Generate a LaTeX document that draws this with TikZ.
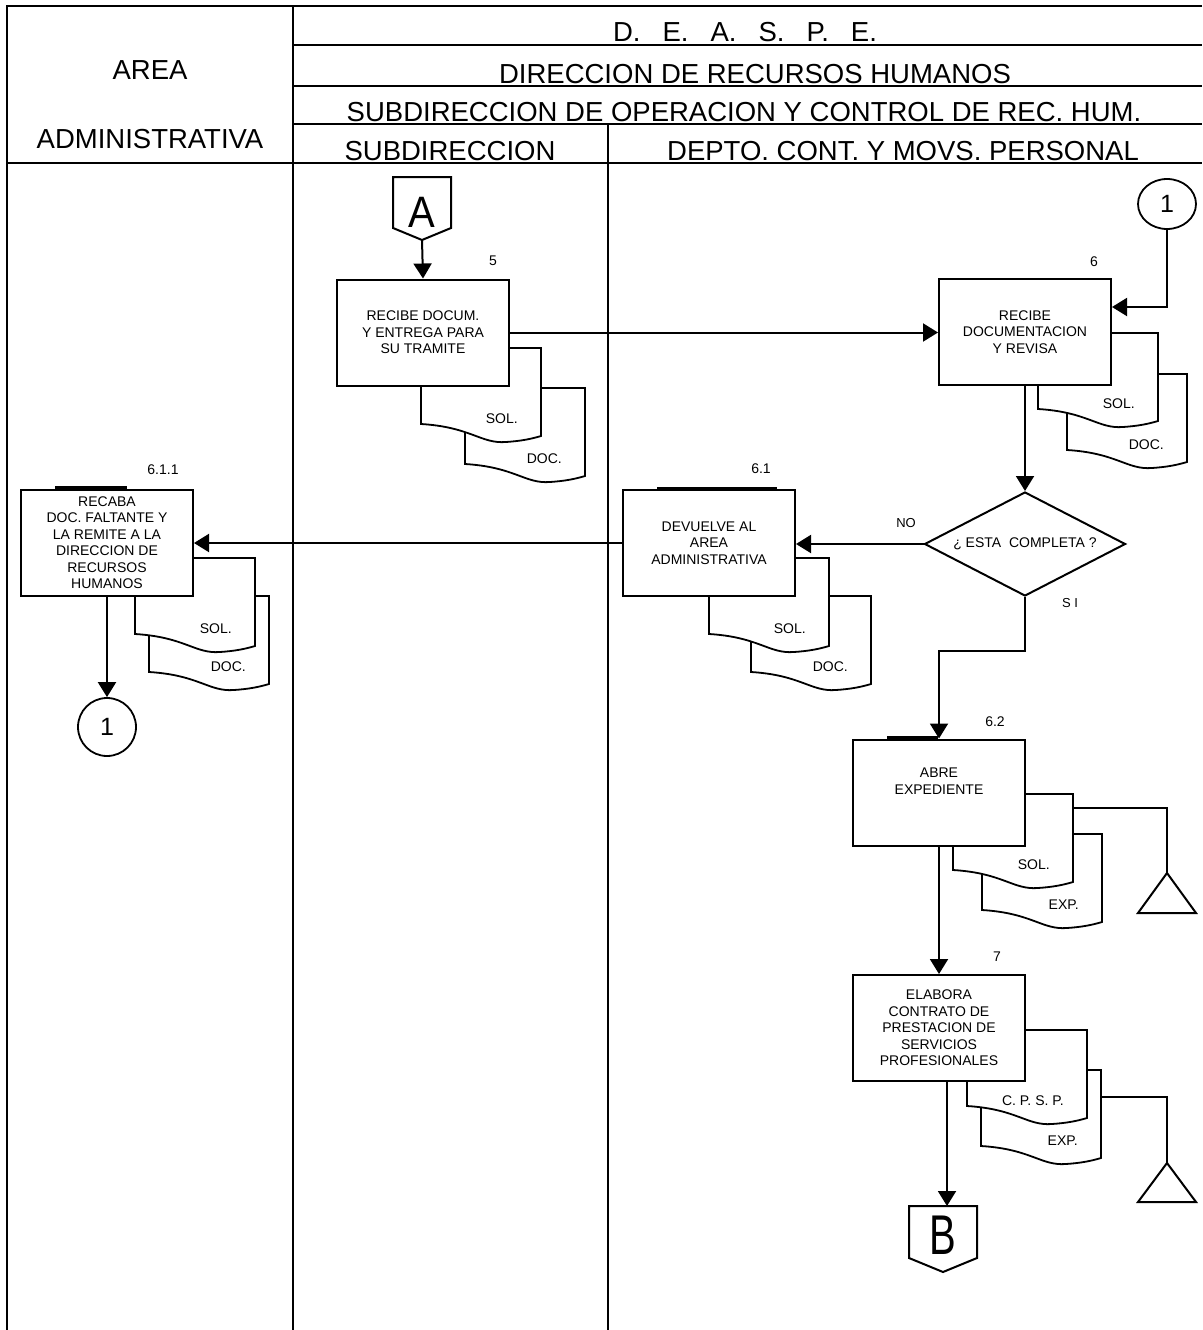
\documentclass[tikz,border=0pt]{standalone}
\usepackage{graphicx}
\usepackage{fontspec}
\setmainfont{Liberation Sans}
\usetikzlibrary{positioning, arrows.meta, shapes.geometric}

% document symbol: name, x, y (top left corner), label
\newcommand{\DocShape}[4]{%
  \draw[DocStyle] (#2,#3) -- (#2,#3+76)
    .. controls (#2+50,#3+79) and (#2+60,#3+96) .. (#2+85,#3+94)
    .. controls (#2+100,#3+93) and (#2+110,#3+91) .. (#2+120,#3+88)
    -- (#2+120,#3) -- cycle;
  \node[DocLabel](#1) at (#2+97,#3+71) {#4};
}

\begin{document}
\begin{tikzpicture}[x=1pt,y=-1pt]
  \tikzset{FrameStyle/.style = {
    draw          = black,
    line width    = 2pt
    }
  }
  \tikzset{HeadStyle/.style = {
    anchor        = base,
    inner sep     = 0pt,
    font          = \fontsize{27.5}{31}\selectfont
    }
  }
  \tikzset{BoxStyle/.style = {
    shape         = rectangle,
    draw          = black,
    fill          = white,
    line width    = 2pt,
    minimum width = 172pt,
    minimum height= 106pt,
    inner sep     = 0pt,
    align         = center,
    font          = \fontsize{14}{16.5}\selectfont
    }
  }
  \tikzset{DocStyle/.style = {
    draw          = black,
    fill          = white,
    line width    = 1.8pt
    }
  }
  \tikzset{DocLabel/.style = {
    anchor        = east,
    inner sep     = 0pt,
    font          = \fontsize{14}{16}\selectfont
    }
  }
  \tikzset{NumStyle/.style = {
    inner sep     = 0pt,
    font          = \fontsize{14}{16}\selectfont
    }
  }
  \tikzset{CircStyle/.style = {
    shape         = ellipse,
    draw          = black,
    fill          = white,
    line width    = 1.8pt,
    minimum width = 58pt,
    minimum height= 58pt,
    inner sep     = 0pt,
    font          = \fontsize{25}{28}\selectfont
    }
  }
  \tikzset{ConStyle/.style = {
    inner sep     = 0pt,
    font          = \fontsize{40}{44}\selectfont
    }
  }
  \tikzset{LineStyle/.style = {
    draw          = black,
    line width    = 2pt,
    line join     = miter
    }
  }
  \tikzset{FlowStyle/.style = {
    draw          = black,
    line width    = 2pt,
    -{Triangle[length=15pt,width=18pt]}
    }
  }
  \tikzset{TabStyle/.style = {
    draw          = black,
    line width    = 3pt
    }
  }

  \useasboundingbox (0,0) rectangle (1202,1330);

  % lanes and header
  \draw[FrameStyle] (1202,6) -- (7,6) -- (7,1330);
  \draw[FrameStyle] (293,6) -- (293,1330);
  \draw[FrameStyle] (608,124) -- (608,1330);
  \draw[FrameStyle] (7,163) -- (1202,163);
  \foreach \y in {45,86,124} \draw[FrameStyle] (293,\y) -- (1202,\y);

  \node[HeadStyle](HArea) at (150,80) {AREA};
  \node[HeadStyle](HAdmin) at (150,148) {ADMINISTRATIVA};
  \node[HeadStyle](HDeaspe) at (745,42) {D.\hspace{22pt}E.\hspace{22pt}A.\hspace{22pt}S.\hspace{22pt}P.\hspace{22pt}E.};
  \node[HeadStyle](HDrh) at (755,83) {DIRECCION DE RECURSOS HUMANOS};
  \node[HeadStyle](HSoc) at (744,121) {SUBDIRECCION DE OPERACION Y CONTROL DE REC. HUM.};
  \node[HeadStyle](HSub) at (450,160) {SUBDIRECCION};
  \node[HeadStyle](HDepto) at (903,160) {DEPTO. CONT. Y MOVS. PERSONAL};

  % documents behind the boxes
  \DocShape{Doc5b}{465}{388}{DOC.}
  \DocShape{Doc5a}{421}{348}{SOL.}
  \DocShape{Doc6b}{1067}{374}{DOC.}
  \DocShape{Doc6a}{1038}{333}{SOL.}
  \DocShape{Doc611b}{149}{596}{DOC.}
  \DocShape{Doc611a}{135}{558}{SOL.}
  \DocShape{Doc61b}{751}{596}{DOC.}
  \DocShape{Doc61a}{709}{558}{SOL.}
  \DocShape{Doc62b}{982}{834}{EXP.}
  \DocShape{Doc62a}{953}{794}{SOL.}
  \DocShape{Doc7b}{981}{1070}{EXP.}
  \DocShape{Doc7a}{967}{1030}{C. P. S. P.}

  % archive
  \coordinate (Out62) at (1073,808);
  \coordinate (Arch1) at (1167,873);
  \coordinate (Out7) at (1101,1097);
  \coordinate (Arch2) at (1167,1163);
  \draw[LineStyle](Out62) -| (Arch1);
  \draw[LineStyle](Arch1) -- ++(29,40) -- ++(-58,0) -- cycle;
  \draw[LineStyle](Out7) -| (Arch2);
  \draw[LineStyle](Arch2) -- ++(29,39) -- ++(-58,0) -- cycle;

  % process boxes
  \node[BoxStyle](Box5) at (423,332.5) {RECIBE DOCUM.\\Y ENTREGA PARA\\SU TRAMITE};
  \node[BoxStyle](Box6) at (1025,332) {RECIBE\\DOCUMENTACION\\Y REVISA};
  \node[BoxStyle](Box611) at (107,542.5) {RECABA\\DOC. FALTANTE Y\\LA REMITE A LA\\DIRECCION DE\\RECURSOS\\HUMANOS};
  \node[BoxStyle](Box61) at (709,543) {DEVUELVE AL\\AREA\\ADMINISTRATIVA};
  \node[BoxStyle](Box62) at (939,792.5) {ABRE\\EXPEDIENTE\\[6pt]};
  \node[BoxStyle](Box7) at (939,1028) {ELABORA\\CONTRATO DE\\PRESTACION DE\\SERVICIOS\\PROFESIONALES};
  \node[BoxStyle, shape=diamond, aspect=2, minimum width=201pt, minimum height=104pt](Dec6) at (1025,544) {¿ ESTA\ \ COMPLETA ?};

  \draw[TabStyle] (55,487.5) -- (127,487.5);
  \draw[TabStyle] (657,488.5) -- (777,488.5);
  \draw[TabStyle] (887,737.5) -- (938,737.5);

  \node[NumStyle](N5) at (493,261) {5};
  \node[NumStyle](N6) at (1094,262) {6};
  \node[NumStyle](N611) at (163,470) {6.1.1};
  \node[NumStyle](N61) at (761,469) {6.1};
  \node[NumStyle](N62) at (995,722) {6.2};
  \node[NumStyle](N7) at (997,957) {7};
  \node[NumStyle, font=\fontsize{13}{15}\selectfont](LNo) at (906,523) {NO};
  \node[NumStyle, font=\fontsize{13}{15}\selectfont](LSi) at (1070,603) {S I};

  % connectors
  \node[ConStyle](ConA) at (422,212) {\scalebox{1}[1.1]{A}};
  \draw[LineStyle] ([shift={(-29,16)}]ConA.center) -- ([shift={(-29,-35)}]ConA.center)
    -- ([shift={(29,-35)}]ConA.center) -- ([shift={(29,16)}]ConA.center)
    -- ([shift={(0,28)}]ConA.center) -- cycle;
  \coordinate (ConATip) at ([shift={(0,28)}]ConA.center);

  \node[ConStyle](ConB) at (943,1235) {\scalebox{1}[1.4]{B}};
  \draw[LineStyle] ([shift={(-34,23)}]ConB.center) -- ([shift={(-34,-29)}]ConB.center)
    -- ([shift={(34,-29)}]ConB.center) -- ([shift={(34,23)}]ConB.center)
    -- ([shift={(0,37)}]ConB.center) -- cycle;
  \coordinate (ConBTop) at ([shift={(4,-29)}]ConB.center);

  \node[CircStyle, minimum height=50pt](Circ1a) at (1167,204) {1};
  \node[CircStyle](Circ1b) at (107,727) {1};

  % flow
  \draw[FlowStyle](ConATip) -- (Box5.north);
  \draw[FlowStyle](Box5.east) -- (Box5.east -| Box6.west);
  \draw[FlowStyle](Circ1a.south) |- ([yshift=25pt]Box6.east);
  \draw[FlowStyle](Box6.south) -- (Dec6.north);
  \draw[FlowStyle](Dec6.west) -- (Dec6.west -| Box61.east);
  \draw[FlowStyle](Box61.west) -- (Box61.west -| Box611.east);
  \draw[FlowStyle](Box611.south) -- (Circ1b.north);
  \draw[FlowStyle](Dec6.south) -- ++(0,54) -| (Box62.north);
  \draw[FlowStyle](Box62.south) -- (Box7.north);
  \draw[FlowStyle](Box7.south -| ConBTop) -- (ConBTop);

\end{tikzpicture}
\end{document}
